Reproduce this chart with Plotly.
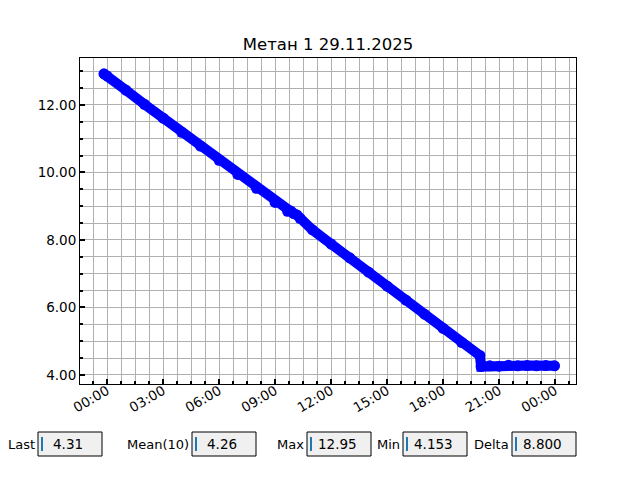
import plotly.graph_objects as go

# ---- data ----
times = [
    "2025-11-28 23:50", "2025-11-29 00:00", "2025-11-29 01:00", "2025-11-29 02:00",
    "2025-11-29 03:00", "2025-11-29 04:00", "2025-11-29 05:00", "2025-11-29 06:00",
    "2025-11-29 07:00", "2025-11-29 08:00", "2025-11-29 09:00", "2025-11-29 09:40",
    "2025-11-29 09:50", "2025-11-29 10:00", "2025-11-29 10:10", "2025-11-29 10:20",
    "2025-11-29 11:00", "2025-11-29 12:00", "2025-11-29 13:00", "2025-11-29 14:00",
    "2025-11-29 15:00", "2025-11-29 16:00", "2025-11-29 17:00", "2025-11-29 18:00",
    "2025-11-29 19:00", "2025-11-29 19:58", "2025-11-29 20:02", "2025-11-29 20:30",
    "2025-11-29 21:00", "2025-11-29 21:30", "2025-11-29 22:00", "2025-11-29 22:30",
    "2025-11-29 23:00", "2025-11-29 23:30", "2025-11-29 23:58",
]
values = [
    12.92, 12.86, 12.44, 12.02,
    11.61, 11.19, 10.78, 10.36,
    9.94, 9.53, 9.11, 8.85,
    8.86, 8.78, 8.74, 8.64,
    8.30, 7.88, 7.47, 7.05,
    6.63, 6.22, 5.80, 5.38,
    4.96, 4.58, 4.25, 4.27,
    4.26, 4.29, 4.27, 4.28,
    4.27, 4.28, 4.27,
]
title_text = "Метан 1 29.11.2025"
stat_labels = ["Last", "Mean(10)", "Max", "Min", "Delta"]
stat_values = ["4.31", "4.26", "12.95", "4.153", "8.800"]

# ---- layout geometry (page pixels; the page body adds an 8px offset) ----
OFF = 8
W, H = 640 - OFF, 480 - OFF
L, R, T, B = 80, 576, 58, 384
box_x = [(38, 102), (192, 256), (307, 371), (403, 467), (512, 576)]
box_y = (432, 456)

def px(x):
    return (x - L) / (R - L)

def py(y):
    return (B - y) / (B - T)

fig = go.Figure()
fig.add_trace(go.Scatter(
    x=times, y=values, mode="lines+markers",
    line=dict(color="#0000ff", width=10),
    marker=dict(color="#0000ff", size=11),
    showlegend=False, hoverinfo="skip",
))

FONT = "DejaVu Sans"
shapes = []
annotations = []
for (x0, x1), lab, val in zip(box_x, stat_labels, stat_values):
    shapes.append(dict(type="rect", xref="paper", yref="paper",
                       x0=px(x0), x1=px(x1), y0=py(box_y[1]), y1=py(box_y[0]),
                       fillcolor="#f0f0f0", line=dict(color="black", width=1)))
    shapes.append(dict(type="line", xref="paper", yref="paper",
                       x0=px(x0 + 4), x1=px(x0 + 4), y0=py(451), y1=py(437),
                       line=dict(color="#1f77b4", width=2)))
    annotations.append(dict(xref="paper", yref="paper", x=px(x0 - 1), y=py(444),
                            text=lab, showarrow=False, xanchor="right", yanchor="middle",
                            font=dict(family=FONT, size=13, color="black")))
    annotations.append(dict(xref="paper", yref="paper", x=px((x0 + x1) / 2 - 2), y=py(444),
                            text=val, showarrow=False, xanchor="center", yanchor="middle",
                            font=dict(family=FONT, size=13.5, color="black")))

fig.update_layout(
    width=W, height=H,
    margin=dict(l=L - OFF, r=640 - R, t=T - OFF, b=480 - B),
    paper_bgcolor="white", plot_bgcolor="white",
    font=dict(family=FONT, size=13.5, color="black"),
    title=dict(text=title_text, x=0.5, xref="paper", y=1 - (44 - OFF) / H, yref="container",
               yanchor="middle", xanchor="center",
               font=dict(family=FONT, size=16.5, color="black")),
    shapes=shapes, annotations=annotations,
)
fig.update_xaxes(
    type="date",
    range=["2025-11-28 22:33", "2025-11-30 01:07"],
    tick0="2025-11-29 00:00", dtick=3 * 3600 * 1000,
    tickformat="%H:%M", tickangle=-30, ticklabelstandoff=-7,
    ticks="inside", ticklen=5, tickwidth=2, tickcolor="black",
    showgrid=True, gridcolor="#b0b0b0", gridwidth=1,
    minor=dict(dtick=45 * 60 * 1000, tick0="2025-11-29 00:00", showgrid=True,
               gridcolor="#b0b0b0", gridwidth=1, ticks="inside", ticklen=3,
               tickcolor="black"),
    showline=True, linecolor="black", linewidth=1, mirror=True,
    zeroline=False, tickfont=dict(size=13.5),
)
fig.update_yaxes(
    range=[3.733, 13.39],
    tick0=4, dtick=2, tickformat=".2f",
    ticks="inside", ticklen=5, tickwidth=2, tickcolor="black",
    showgrid=True, gridcolor="#b0b0b0", gridwidth=1,
    minor=dict(dtick=0.5, tick0=4, showgrid=True, gridcolor="#b0b0b0", gridwidth=1,
               ticks="inside", ticklen=3, tickcolor="black"),
    showline=True, linecolor="black", linewidth=1, mirror=True,
    zeroline=False, tickfont=dict(size=13.5),
)

fig.write_html("out.html")
